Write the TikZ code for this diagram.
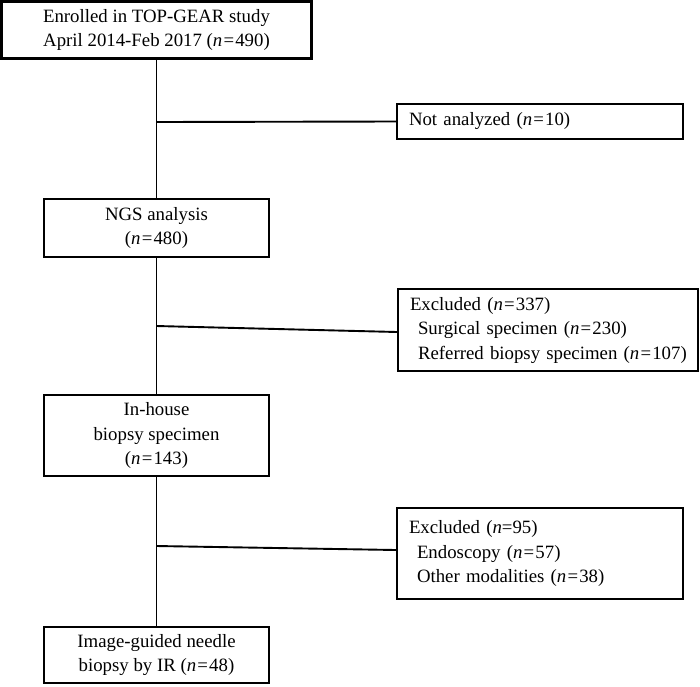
\documentclass[tikz,border=0pt]{standalone}
\usepackage{fontspec}
\setmainfont{Liberation Serif}
\newcommand{\nn}[1]{(\textit{n}\hspace{1.2pt}=\hspace{1.2pt}#1)}
\begin{document}
\begin{tikzpicture}[x=1pt,y=1pt,
  box/.style={draw,line width=2.1pt,inner sep=0pt,font=\fontsize{18.8}{24.5}\selectfont},
  cbox/.style={box,align=center},
  lbox/.style={box,align=left,inner xsep=12pt},
  conn/.style={line width=1.9pt}]
\useasboundingbox (0,0) rectangle (700,-686);
\fill[white] (0,0) rectangle (700,-686);
\node[cbox,minimum width=310,minimum height=57] (enr) at (156.5,-30)
  {Enrolled in TOP-GEAR study\\April 2014-Feb 2017 \nn{490}};
\node[lbox,text width=262,minimum height=35] (na) at (540,-121.5)
  {Not analyzed \nn{10}};
\node[cbox,minimum width=225,minimum height=58] (ngs) at (156.5,-228)
  {NGS analysis\\\nn{480}};
\node[lbox,text width=276,minimum height=82] (ex1) at (548,-330)
  {\mbox{Excluded \nn{337}}\\\mbox{\hspace*{8pt}Surgical specimen \nn{230}}\\\mbox{\hspace*{8pt}Referred biopsy specimen \nn{107}}};
\node[cbox,minimum width=225,minimum height=81] (inh) at (156.5,-435.5)
  {In-house\\biopsy specimen\\\nn{143}};
\node[lbox,text width=262,minimum height=91] (ex2) at (540,-553.5)
  {Excluded (\textit{n}=95)\\\hspace*{8pt}Endoscopy \nn{57}\\\hspace*{8pt}Other modalities \nn{38}};
\node[cbox,minimum width=225,minimum height=56] (fin) at (156.5,-655)
  {Image-guided needle\\biopsy by IR \nn{48}};
\coordinate (b1) at (156.5,-122);
\coordinate (b2) at (156.5,-326);
\coordinate (e2) at (0,-332);
\coordinate (b3) at (156.5,-546);
\coordinate (e3) at (0,-550);
\draw[conn] (enr.south) -- (ngs.north);
\draw[conn] (ngs.south) -- (inh.north);
\draw[conn] (inh.south) -- (fin.north);
\draw[conn] (b1) -- (na.west);
\draw[conn] (b2) -- (ex1.west |- e2);
\draw[conn] (b3) -- (ex2.west |- e3);
\end{tikzpicture}
\end{document}
